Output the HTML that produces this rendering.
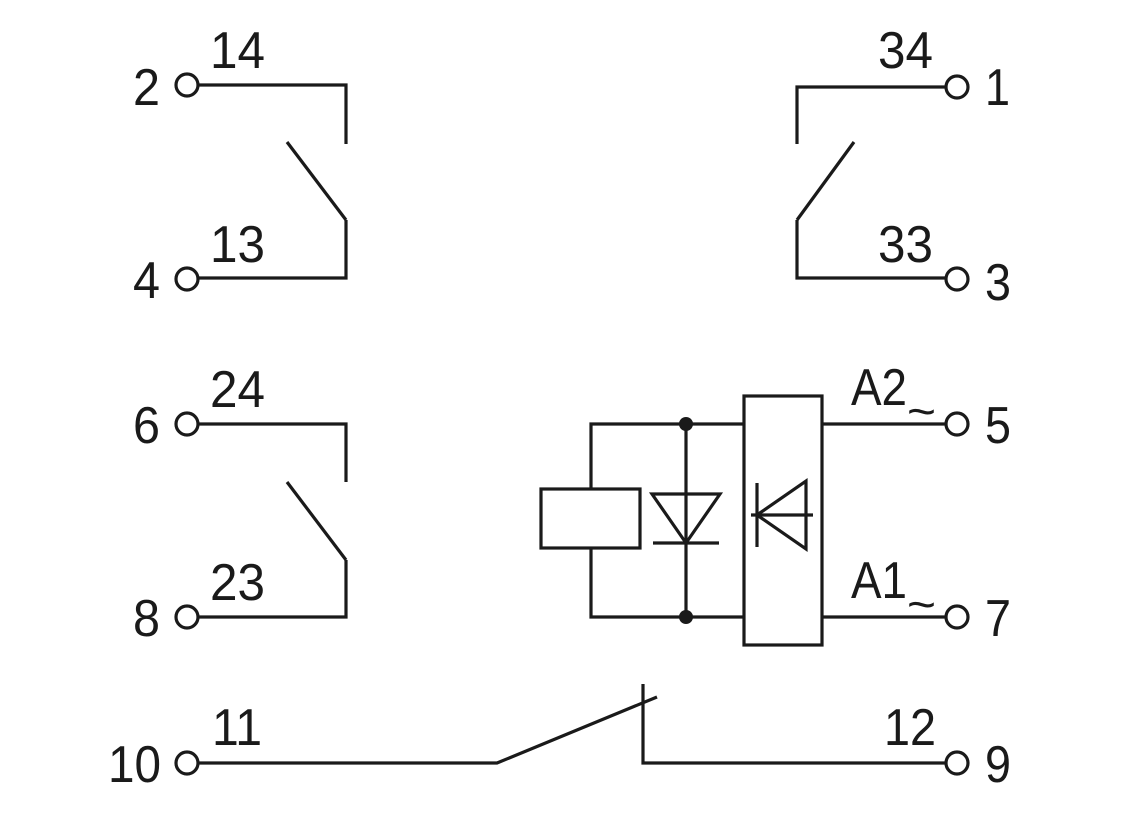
<!DOCTYPE html>
<html><head><meta charset="utf-8"><style>html,body{margin:0;padding:0;background:#fff}</style></head>
<body>
<svg width="1139" height="811" viewBox="0 0 1139 811" xmlns="http://www.w3.org/2000/svg">
<g fill="none" stroke="#1a1a1a" stroke-width="3.2">
<circle cx="187" cy="85" r="11"/><circle cx="187" cy="279" r="11"/>
<polyline points="198,85 346,85 346,144"/>
<line x1="287" y1="142" x2="346" y2="220"/>
<polyline points="346,220 346,278 198,278"/>
<circle cx="957" cy="87" r="11"/><circle cx="957" cy="279" r="11"/>
<polyline points="946,87 797,87 797,144"/>
<line x1="854" y1="142" x2="797" y2="220"/>
<polyline points="797,220 797,278 946,278"/>
<circle cx="187" cy="424" r="11"/><circle cx="187" cy="617" r="11"/>
<polyline points="198,424 346,424 346,482"/>
<line x1="287" y1="482" x2="346" y2="560"/>
<polyline points="346,560 346,617 198,617"/>
<rect x="541" y="489" width="99" height="59"/>
<polyline points="591,489 591,424 744,424"/>
<polyline points="591,548 591,617 744,617"/>
<line x1="686" y1="424" x2="686" y2="617"/>
<polygon points="652,494 720,494 686,543"/>
<line x1="653" y1="543" x2="719" y2="543"/>
<rect x="744" y="396" width="78" height="249"/>
<line x1="757" y1="483" x2="757" y2="547"/>
<line x1="751" y1="515" x2="813" y2="515"/>
<polygon points="757,515 806,481 806,549"/>
<line x1="822" y1="424" x2="946" y2="424"/>
<line x1="822" y1="617" x2="946" y2="617"/>
<circle cx="957" cy="424" r="11"/><circle cx="957" cy="617" r="11"/>
<circle cx="187" cy="763" r="11"/><circle cx="957" cy="763" r="11"/>
<polyline points="198,763 497,763 657,697"/>
<polyline points="643,684 643,763 946,763"/>
</g>
<g fill="#1a1a1a"><circle cx="686" cy="424" r="7"/><circle cx="686" cy="617" r="7"/></g>
<g font-family="Liberation Sans, sans-serif" font-size="52" fill="#1a1a1a">
<text x="133" y="105" textLength="27" lengthAdjust="spacingAndGlyphs">2</text>
<text x="210" y="68" textLength="55" lengthAdjust="spacingAndGlyphs">14</text>
<text x="133" y="298" textLength="27" lengthAdjust="spacingAndGlyphs">4</text>
<text x="210" y="262" textLength="55" lengthAdjust="spacingAndGlyphs">13</text>
<text x="878" y="68" textLength="55" lengthAdjust="spacingAndGlyphs">34</text>
<text x="985" y="105" textLength="25" lengthAdjust="spacingAndGlyphs">1</text>
<text x="878" y="262" textLength="55" lengthAdjust="spacingAndGlyphs">33</text>
<text x="985" y="300" textLength="26" lengthAdjust="spacingAndGlyphs">3</text>
<text x="133" y="443" textLength="27" lengthAdjust="spacingAndGlyphs">6</text>
<text x="210" y="407" textLength="55" lengthAdjust="spacingAndGlyphs">24</text>
<text x="133" y="636" textLength="27" lengthAdjust="spacingAndGlyphs">8</text>
<text x="210" y="600" textLength="55" lengthAdjust="spacingAndGlyphs">23</text>
<text x="851" y="405" textLength="56" lengthAdjust="spacingAndGlyphs">A2</text>
<text x="907" y="427" font-size="46" textLength="29" lengthAdjust="spacingAndGlyphs">~</text>
<text x="985" y="443" textLength="26" lengthAdjust="spacingAndGlyphs">5</text>
<text x="851" y="598" textLength="56" lengthAdjust="spacingAndGlyphs">A1</text>
<text x="907" y="620" font-size="46" textLength="29" lengthAdjust="spacingAndGlyphs">~</text>
<text x="985" y="636" textLength="26" lengthAdjust="spacingAndGlyphs">7</text>
<text x="108" y="782" textLength="53" lengthAdjust="spacingAndGlyphs">10</text>
<text x="212" y="745" textLength="50" lengthAdjust="spacingAndGlyphs">11</text>
<text x="884" y="745" textLength="52" lengthAdjust="spacingAndGlyphs">12</text>
<text x="985" y="782" textLength="26" lengthAdjust="spacingAndGlyphs">9</text>
</g>
</svg>
</body></html>
